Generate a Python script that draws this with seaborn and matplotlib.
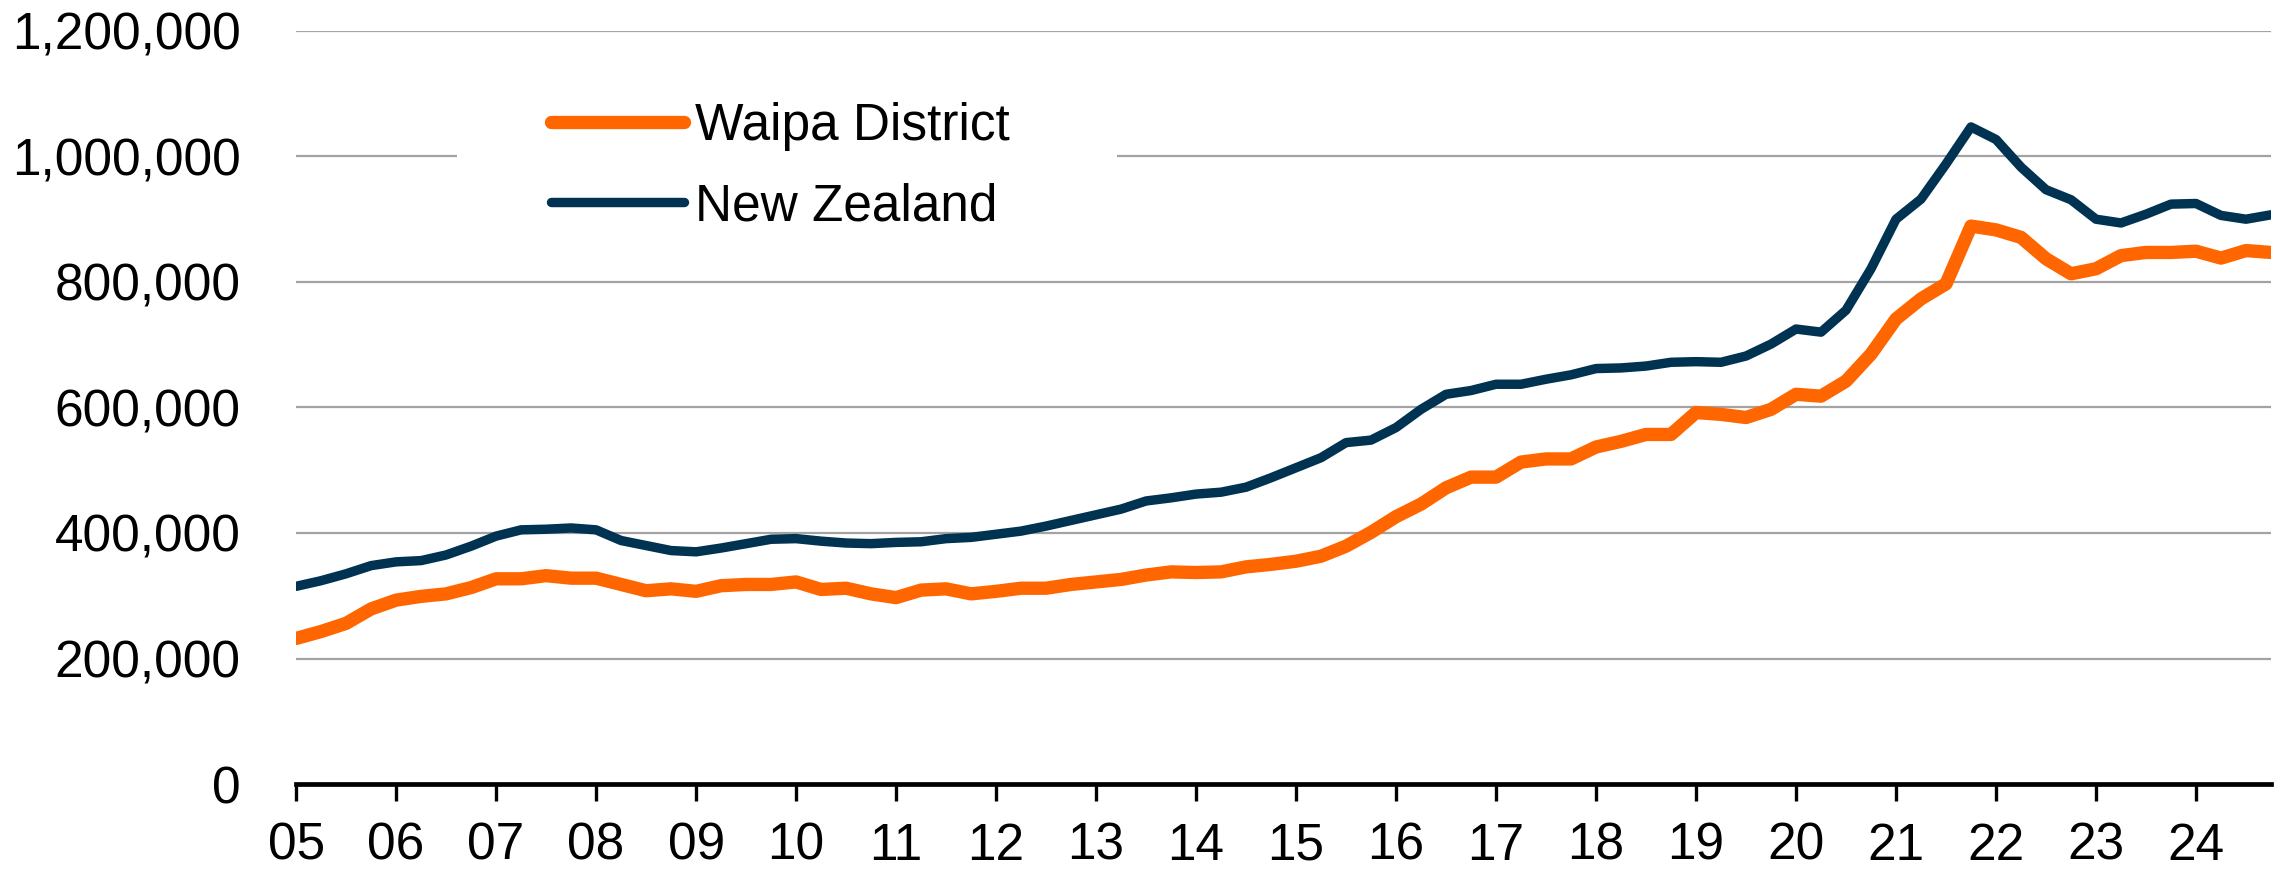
import numpy as np
import pandas as pd
import matplotlib
matplotlib.use("Agg")
import matplotlib.pyplot as plt
from matplotlib.patches import Rectangle
from matplotlib.ticker import FuncFormatter
import seaborn as sns

# quarterly mean house value, 2005 Q1 .. 2024 Q4 (in $000)
START_YEAR = 2005
waipa = [232, 243, 256, 279, 293, 299, 303, 313, 327, 327, 332, 328, 328, 318, 308, 311,
         307, 316, 318, 318, 322, 310, 312, 303, 297, 309, 311, 303,
         307, 312, 312, 318, 322, 326, 333, 338, 337, 338, 346, 350, 355, 363, 379, 401,
         426, 446, 472, 489, 489, 513, 518, 518, 537, 546, 557,
         557, 592, 589, 584, 597, 621, 618, 642, 685, 741, 773, 797, 889, 883, 871, 837,
         813, 821, 842, 847, 847, 849, 838, 850, 847]
nz = [315, 324, 335, 348, 354, 356, 365, 379, 395, 405, 406, 408, 405, 388, 380, 372,
      370, 376, 383, 390, 391, 387, 384, 383, 385, 386, 391, 393,
      398, 403, 411, 420, 429, 438, 451, 456, 462, 465, 473, 488, 504, 520, 544, 548,
      568, 597, 621, 627, 637, 637, 645, 652, 662, 663, 666,
      672, 673, 672, 682, 701, 725, 720, 755, 821, 900, 932, 988, 1047, 1027, 983, 947,
      931, 900, 894, 908, 924, 925, 906, 900, 907]
series_names = ["Waipa District", "New Zealand"]
series_colors = ["#FF6600", "#003352"]
years = list(range(2005, 2025))
year_labels = [f"{y % 100:02d}" for y in years]
y_ticks = [0, 200000, 400000, 600000, 800000, 1000000, 1200000]

quarter = np.arange(len(waipa)) / 4 + START_YEAR
df = pd.DataFrame({
    "t": np.concatenate([quarter, quarter]),
    "value": np.array(waipa + nz) * 1000,
    "area": [series_names[0]] * len(waipa) + [series_names[1]] * len(nz),
})

sns.set_theme(style="white")
plt.rcParams["font.family"] = ["Liberation Sans", "DejaVu Sans"]
plt.rcParams["text.color"] = "black"
plt.rcParams["xtick.color"] = "black"
plt.rcParams["ytick.color"] = "black"
FS = 37

fig = plt.figure(figsize=(22.9, 8.86), dpi=100)
ax = fig.add_axes([0.1293, 0.1151, 0.8624, 0.850])

widths = {series_names[0]: 9.6, series_names[1]: 6.8}
for name, col in zip(series_names, series_colors):
    sns.lineplot(data=df[df["area"] == name], x="t", y="value", color=col,
                 linewidth=widths[name], solid_capstyle="round", label=name,
                 ax=ax, zorder=3)

ax.set_xlim(START_YEAR, quarter[-1])
ax.set_ylim(0, 1200000)
ax.set_yticks(y_ticks)
ax.yaxis.set_major_formatter(FuncFormatter(lambda v, p: f"{int(v):,}"))
ax.set_xticks(years)
ax.set_xticklabels(year_labels)
ax.set_xlabel("")
ax.set_ylabel("")

ax.set_axisbelow(True)
ax.grid(axis="y", color="#a3a3a3", linewidth=1.6)
ax.grid(axis="x", visible=False)
for s in ["top", "right", "left"]:
    ax.spines[s].set_visible(False)
ax.spines["bottom"].set_color("black")
ax.spines["bottom"].set_linewidth(3.4)
ax.spines["bottom"].set_zorder(4)

ax.tick_params(axis="x", direction="out", length=12, width=2.4, color="black",
               labelsize=FS, labelcolor="black", pad=15, bottom=True)
ax.tick_params(axis="y", length=0, labelsize=FS, labelcolor="black", pad=40)

# white backing behind the legend (breaks the 1,000,000 gridline)
ax.add_patch(Rectangle((0.0815, 0.71), 0.334, 0.25, transform=ax.transAxes,
                       facecolor="white", edgecolor="none", zorder=1))

leg = ax.legend(loc="center", bbox_to_anchor=(0.245, 0.82), frameon=False,
                fontsize=FS, handlelength=2.6, handletextpad=0.2, labelspacing=0.62,
                borderpad=0)
for h in leg.get_lines():
    h.set_solid_capstyle("round")
for t in leg.get_texts():
    t.set_color("black")

fig.savefig("out.png", dpi=100, facecolor="white")
